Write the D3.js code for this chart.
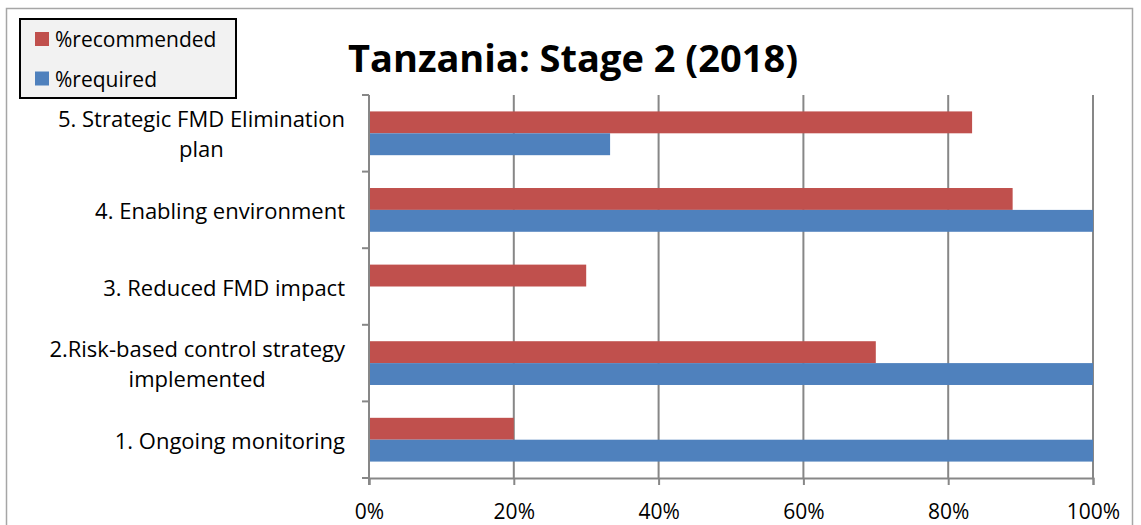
<!DOCTYPE html>
<html>
<head>
<meta charset="utf-8">
<script src="https://cdn.jsdelivr.net/npm/d3@7"></script>
<style>
  body { margin: 0; background: #fff; }
  text { font-family: "Open Sans", sans-serif; }
</style>
</head>
<body>
<div id="chart"></div>
<script>
let w = 1141;
let h = 525;

// data
let categories = ["1", "2", "3", "4", "5"];
let categoryLabels = [
  ["1. Ongoing monitoring"],
  ["2.Risk-based control strategy", "implemented"],
  ["3. Reduced FMD impact"],
  ["4. Enabling environment"],
  ["5. Strategic FMD Elimination", "plan"]
];
let recommended = [20, 70, 30, 88.9, 83.3];
let required = [100, 100, 0, 100, 33.3];
let seriesNames = ["%recommended", "%required"];
let seriesColors = ["#C0504D", "#4F81BD"];
let xTicks = [0, 20, 40, 60, 80, 100];

let svg = d3.select("#chart")
  .append("svg")
  .attr("width", w)
  .attr("height", h);

// outer chart border
svg.append("rect")
  .attr("x", 6.5)
  .attr("y", 8.5)
  .attr("width", 1126)
  .attr("height", 540)
  .attr("fill", "#fff")
  .attr("stroke", "#a6a6a6")
  .attr("stroke-width", 1.5);

let plotLeft = 369;
let plotRight = 1093;
let plotTop = 95;
let plotBottom = 478;

let xScale = d3.scaleLinear().domain([0, 100]).range([plotLeft, plotRight]);
// category 5 on top
let yScale = d3.scaleBand().domain(categories.slice().reverse()).range([plotTop, plotBottom]).padding(0);
let seriesScale = d3.scaleBand().domain([0, 1]).range([0, yScale.bandwidth()])
  .paddingInner(0).paddingOuter(0.75);

// gridlines
let gridGroup = svg.append("g").attr("class", "grid");
gridGroup.selectAll("line")
  .data(xTicks.slice(1))
  .enter()
  .append("line")
  .attr("x1", d => xScale(d))
  .attr("x2", d => xScale(d))
  .attr("y1", plotTop)
  .attr("y2", plotBottom)
  .attr("stroke", "#878787")
  .attr("stroke-width", 2);

// bars
let rows = categories.map((c, i) => ({ cat: c, values: [recommended[i], required[i]] }));
let barGroup = svg.append("g").attr("class", "bars");
rows.forEach(r => {
  r.values.forEach((v, s) => {
    if (v <= 0) return;
    barGroup.append("rect")
      .attr("x", xScale(0))
      .attr("y", yScale(r.cat) + seriesScale(s))
      .attr("width", xScale(v) - xScale(0))
      .attr("height", seriesScale.bandwidth())
      .attr("fill", seriesColors[s]);
  });
});

// x axis at bottom
let xAxis = d3.axisBottom(xScale)
  .tickValues(xTicks)
  .tickSize(7)
  .tickFormat(d => d + "%");
let xAxisGroup = svg.append("g")
  .attr("transform", "translate(0," + plotBottom + ")")
  .call(xAxis);
xAxisGroup.select(".domain").attr("stroke", "#878787").attr("stroke-width", 2);
xAxisGroup.selectAll(".tick line").attr("stroke", "#878787").attr("stroke-width", 2);
xAxisGroup.selectAll(".tick text")
  .attr("y", 26)
  .attr("font-size", 21)
  .attr("fill", "#000")
  .style("font-family", "'Open Sans', sans-serif");

// y axis: line with ticks at category boundaries
let yAxisGroup = svg.append("g").attr("class", "yAxis");
yAxisGroup.append("line")
  .attr("x1", plotLeft).attr("x2", plotLeft)
  .attr("y1", plotTop).attr("y2", plotBottom + 7)
  .attr("stroke", "#878787").attr("stroke-width", 2);
let boundaries = categories.map(c => yScale(c)).concat([plotBottom]);
yAxisGroup.selectAll(".ytick")
  .data(boundaries)
  .enter()
  .append("line")
  .attr("x1", plotLeft - 7).attr("x2", plotLeft)
  .attr("y1", d => d).attr("y2", d => d)
  .attr("stroke", "#878787").attr("stroke-width", 2);

// category labels
let labelGroup = svg.append("g").attr("class", "labels");
rows.forEach((r, i) => {
  let lines = categoryLabels[i];
  let cy = yScale(r.cat) + yScale.bandwidth() / 2;
  let lineH = 30;
  let g = labelGroup.append("g");
  let texts = lines.map((t, j) => g.append("text")
    .attr("font-size", 22)
    .attr("fill", "#000")
    .attr("dominant-baseline", "central")
    .attr("y", cy + (j - (lines.length - 1) / 2) * lineH)
    .text(t));
  let maxW = d3.max(texts, t => t.node().getComputedTextLength());
  texts.forEach(t => t.attr("text-anchor", "middle").attr("x", 345 - maxW / 2));
});

// title
svg.append("text")
  .attr("x", 573)
  .attr("y", 72)
  .attr("text-anchor", "middle")
  .attr("font-size", 38)
  .attr("font-weight", "bold")
  .attr("fill", "#000")
  .text("Tanzania: Stage 2 (2018)");

// legend
let legend = svg.append("g").attr("class", "legend");
legend.append("rect")
  .attr("x", 20).attr("y", 19)
  .attr("width", 216).attr("height", 79)
  .attr("fill", "#f2f2f2")
  .attr("stroke", "#000")
  .attr("stroke-width", 2);
seriesNames.forEach((name, i) => {
  let y = 39 + i * 39.5;
  legend.append("rect")
    .attr("x", 35).attr("y", y - 7)
    .attr("width", 14).attr("height", 14)
    .attr("fill", seriesColors[i]);
  legend.append("text")
    .attr("x", 55).attr("y", y)
    .attr("dominant-baseline", "central")
    .attr("font-size", 21)
    .attr("fill", "#000")
    .text(name);
});
</script>
</body>
</html>
